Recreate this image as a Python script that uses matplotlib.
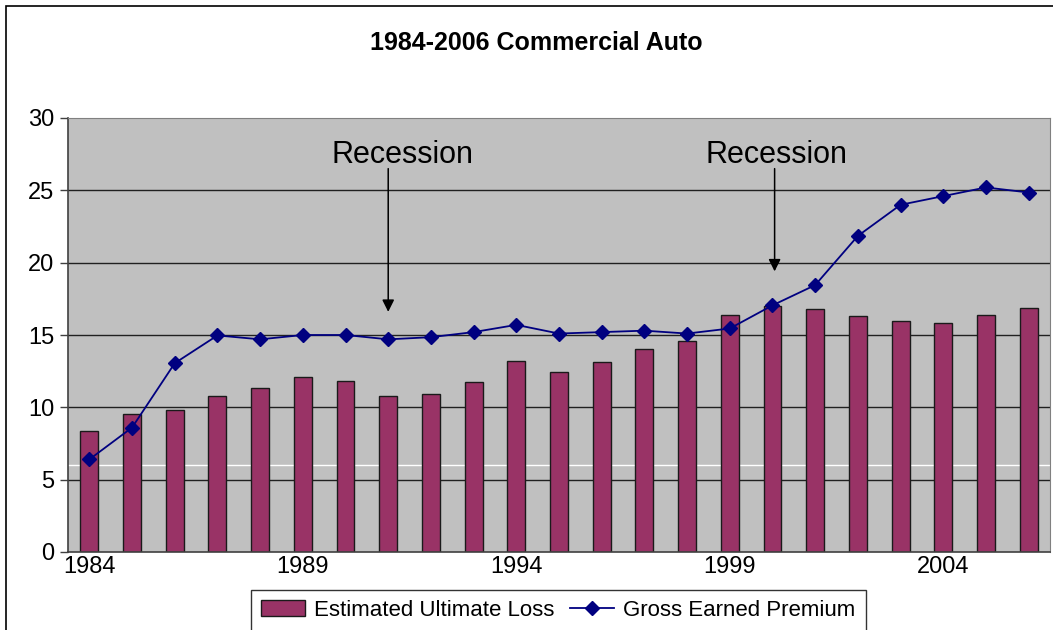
import numpy as np
import matplotlib
matplotlib.use("Agg")
import matplotlib.pyplot as plt
from matplotlib.patches import Rectangle

plt.rcParams['font.family'] = ['Liberation Sans', 'DejaVu Sans']

years = list(range(1984, 2007))
ultimate_loss = [8.35, 9.55, 9.8, 10.75, 11.35, 12.1, 11.85, 10.75, 10.9, 11.75, 13.2, 12.45,
                 13.15, 14.0, 14.6, 16.4, 17.0, 16.8, 16.3, 15.95, 15.8, 16.4, 16.9]
earned_premium = [6.4, 8.6, 13.05, 14.97, 14.7, 15.0, 15.0, 14.7, 14.85, 15.2, 15.7, 15.1,
                  15.2, 15.3, 15.1, 15.45, 17.05, 18.45, 21.85, 24.0, 24.6, 25.2, 24.85]
tick_years = [1984, 1989, 1994, 1999, 2004]

fig = plt.figure(figsize=(10.53, 6.30), dpi=100)
ax = fig.add_axes([68/1053, 78/630, 982/1053, 434/630])
ax.set_facecolor('#C0C0C0')

# gridlines
for v in [5, 10, 15, 20, 25]:
    ax.axhline(v, color='#202020', lw=1.0, zorder=1)
ax.axhline(6, color='white', lw=1.0, zorder=1)

bars = ax.bar(years, ultimate_loss, width=0.42, color='#993366', edgecolor='#1a1a1a',
              lw=1.0, zorder=2, label='Estimated Ultimate Loss')
line, = ax.plot(years, earned_premium, color='#000080', lw=1.3, marker='D', ms=7.5,
                zorder=3, label='Gross Earned Premium')

# recession arrows
ax.text(1991.33, 27.45, 'Recession', fontsize=22, ha='center', va='center', zorder=4)
ax.annotate('', xy=(1991, 16.6), xytext=(1991, 26.5),
            arrowprops=dict(arrowstyle='-|>', color='black', lw=1.1,
                            mutation_scale=18, shrinkA=0, shrinkB=0), zorder=4)
ax.text(2000.1, 27.45, 'Recession', fontsize=22, ha='center', va='center', zorder=4)
ax.annotate('', xy=(2000.05, 19.4), xytext=(2000.05, 26.5),
            arrowprops=dict(arrowstyle='-|>', color='black', lw=1.1,
                            mutation_scale=18, shrinkA=0, shrinkB=0), zorder=4)

ax.set_xlim(1983.5, 2006.5)
ax.set_ylim(0, 30)
ax.set_yticks([0, 5, 10, 15, 20, 25, 30])
ax.set_xticks(tick_years)
ax.tick_params(axis='y', labelsize=17, length=6, width=1, color='#404040', direction='out', pad=4)
ax.tick_params(axis='x', labelsize=17, length=0, pad=3)
for s in ['top', 'right']:
    ax.spines[s].set_color('#808080')
for s in ['left', 'bottom']:
    ax.spines[s].set_color('#404040')
    ax.spines[s].set_linewidth(1.2)

fig.text(0.509, 0.932, '1984-2006 Commercial Auto', fontsize=18, fontweight='bold',
         ha='center', va='center')

leg = fig.legend(handles=[bars, line], loc='upper center', bbox_to_anchor=(0.53, 0.0635),
                 ncol=2, fontsize=16, frameon=True, fancybox=False, edgecolor='black',
                 handlelength=2.0, handletextpad=0.4, columnspacing=0.7, borderpad=0.45,
                 borderaxespad=0)
leg.get_frame().set_linewidth(1.0)

# chart area border
fig.patches.append(Rectangle((6/1053, -0.2), 1.2, 1.2 - 6/630, transform=fig.transFigure,
                             fill=False, edgecolor='black', lw=1.2))

fig.savefig('out.png', dpi=100)
